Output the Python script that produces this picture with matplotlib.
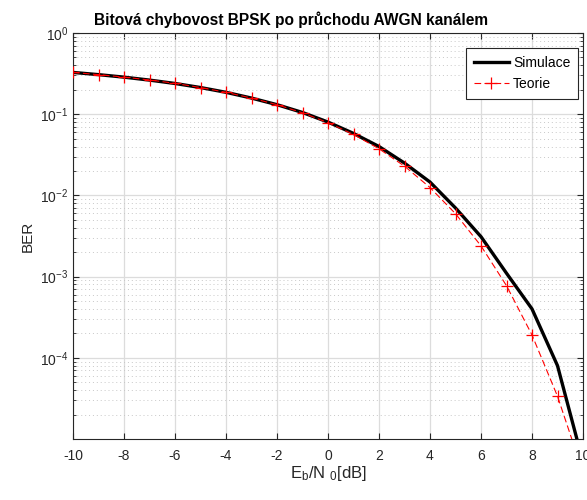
import matplotlib
matplotlib.use("Agg")
import matplotlib.pyplot as plt
from matplotlib.ticker import LogLocator, NullFormatter, FixedLocator

plt.rcParams['font.family'] = ['Liberation Sans', 'DejaVu Sans']
plt.rcParams['axes.unicode_minus'] = False
plt.rcParams['mathtext.fontset'] = 'custom'
plt.rcParams['mathtext.rm'] = 'Liberation Sans'
plt.rcParams['mathtext.it'] = 'Liberation Sans:italic'
plt.rcParams['mathtext.default'] = 'regular'

ebn0_db = [-10, -9, -8, -7, -6, -5, -4, -3, -2, -1, 0, 1, 2, 3, 4, 5, 6, 7, 8, 9, 10]
ber_sim = [0.327, 0.307, 0.286, 0.263, 0.239, 0.213, 0.186, 0.158, 0.131, 0.105,
           0.080, 0.058, 0.040, 0.025, 0.0146, 0.0070, 0.0031, 0.0011, 0.0004,
           0.00008, 0.0000052]
ber_theory = [0.327, 0.307, 0.286, 0.264, 0.240, 0.213, 0.186, 0.158, 0.131, 0.104,
              0.0786, 0.0563, 0.0375, 0.0229, 0.0125, 0.00595, 0.00239, 0.000773,
              0.000191, 0.0000336, 0.00000387]
x_ticks = [-10, -8, -6, -4, -2, 0, 2, 4, 6, 8, 10]
y_ticks = [1e-4, 1e-3, 1e-2, 1e-1, 1e0]

fig = plt.figure(figsize=(5.87, 5.00), dpi=100)
ax = fig.add_axes([73/587, 61/500, 510/587, 406/500])

ax.semilogy(ebn0_db, ber_sim, color='black', lw=2.4, label='Simulace', zorder=3)
ax.semilogy(ebn0_db, ber_theory, color='red', lw=0.8, ls=(0, (6, 3)), marker='+',
            ms=9, mew=0.9, label='Teorie', zorder=4)

ax.set_xlim(-10, 10)
ax.set_ylim(1e-5, 1)
ax.xaxis.set_major_locator(FixedLocator(x_ticks))
ax.set_xticklabels([str(t) for t in x_ticks])
ax.yaxis.set_major_locator(FixedLocator(y_ticks))
ax.set_yticklabels([r'$10^{%d}$' % e for e in [-4, -3, -2, -1, 0]])
ax.yaxis.set_minor_locator(LogLocator(base=10, subs=range(2, 10), numticks=10))
ax.yaxis.set_minor_formatter(NullFormatter())

ax.grid(True, which='major', color='#dcdcdc', lw=0.9, ls='-')
ax.grid(True, which='minor', axis='y', color='#c8c8c8', lw=0.7, ls=(0, (1, 3)))
ax.set_axisbelow(True)

for s in ax.spines.values():
    s.set_color('#262626')
    s.set_linewidth(0.8)
ax.tick_params(which='both', direction='in', top=True, right=True, colors='#262626',
               labelsize=10, labelcolor='#262626')
ax.tick_params(which='major', length=4)
ax.tick_params(which='minor', length=2)
ax.tick_params(axis='x', pad=7)

ax.set_title('Bitová chybovost BPSK po průchodu AWGN kanálem', fontsize=11.2,
             fontweight='bold', pad=6, x=0.427)
ax.set_xlabel(r'E$_{b}$/N $_{0}$[dB]', fontsize=12, color='#262626', labelpad=1)
ax.set_ylabel('BER', fontsize=11, color='#262626')

leg = ax.legend(loc='upper right', bbox_to_anchor=(0.99, 0.963), fontsize=10,
                fancybox=False, framealpha=1, edgecolor='#262626', numpoints=1,
                handlelength=2.5, borderpad=0.55, labelspacing=0.55,
                handletextpad=0.3, borderaxespad=0)
leg.get_frame().set_linewidth(0.8)

fig.savefig('out.png', dpi=100)
